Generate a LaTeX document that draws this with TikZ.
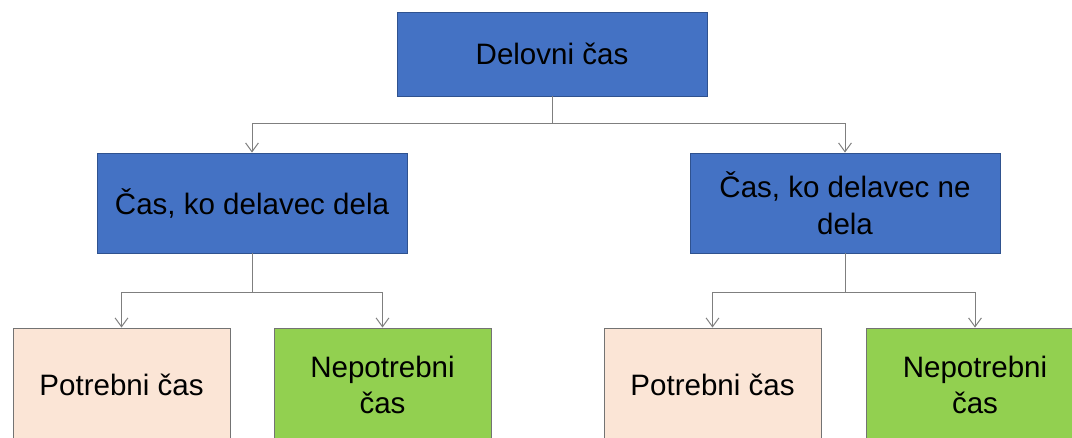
\documentclass[tikz,border=0pt]{standalone}
\usepackage{fontspec}
\setmainfont{Liberation Sans}
\usetikzlibrary{arrows.meta, positioning}

\definecolor{boxblue}{HTML}{4472C4}
\definecolor{blueline}{HTML}{2F528F}
\definecolor{peach}{HTML}{FBE5D6}
\definecolor{leaf}{HTML}{92D050}
\definecolor{wire}{HTML}{7F7F7F}

\tikzset{
  box/.style={draw, line width=0.6pt, align=center,
    font={\fontsize{21}{26}\selectfont}},
  topbox/.style={box, fill=boxblue, draw=blueline, minimum width=7.75cm, minimum height=2.1cm},
  midbox/.style={box, fill=boxblue, draw=blueline, minimum width=7.75cm, minimum height=2.5cm},
  needbox/.style={box, fill=peach, draw=black!55, minimum width=5.425cm, minimum height=2.85cm},
  wastebox/.style={box, fill=leaf, draw=black!55, minimum width=5.425cm, minimum height=2.85cm},
  wire/.style={draw=wire, line width=0.7pt, ->}
}

\begin{document}
\begin{tikzpicture}[x=0.025cm, y=-0.025cm, >={Straight Barb[length=2.2mm, width=3.2mm]}]
    \useasboundingbox (0,0) rectangle (1072,437);
    \clip (0,0) rectangle (1072,437);

    \node[topbox] (total) at (552,54) {Delovni čas};
    \node[midbox] (work) at (252,203) {Čas, ko delavec dela};
    \node[midbox] (idle) at (845,203) {Čas, ko delavec ne\\dela};

    \node[needbox] (workneed) at (121.5,385) {Potrebni čas};
    \node[wastebox] (workwaste) at (382.5,385) {Nepotrebni\\čas};
    \node[needbox] (idleneed) at (712.5,385) {Potrebni čas};
    \node[wastebox] (idlewaste) at (975,385) {Nepotrebni\\čas};

    \draw[wire] (total.south) -- ++(0,27) -| (work.north);
    \draw[wire] (total.south) -- ++(0,27) -| (idle.north);
    \draw[wire] (work.south) -- ++(0,39) -| (workneed.north);
    \draw[wire] (work.south) -- ++(0,39) -| (workwaste.north);
    \draw[wire] (idle.south) -- ++(0,39) -| (idleneed.north);
    \draw[wire] (idle.south) -- ++(0,39) -| (idlewaste.north);
\end{tikzpicture}
\end{document}
